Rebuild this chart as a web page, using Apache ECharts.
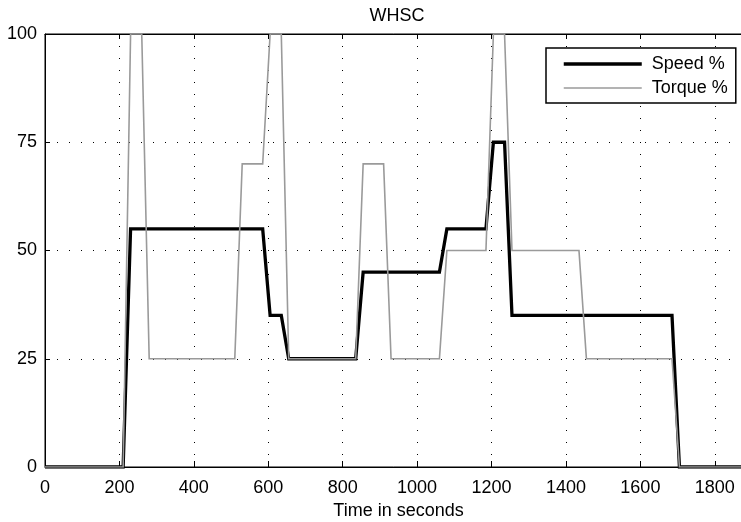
<!DOCTYPE html>
<html>
<head>
<meta charset="utf-8">
<script src="https://cdn.jsdelivr.net/npm/echarts@6/dist/echarts.min.js"></script>
<style>
html,body{margin:0;padding:0;background:#fff;}
#chart{width:741px;height:522px;}
</style>
</head>
<body>
<div id="chart"></div>
<script>
var speedTimes  = [0, 210, 230, 585, 605, 635, 655, 835, 855, 1060, 1080, 1185, 1205, 1235, 1255, 1685, 1705, 1900];
var speedValues = [0, 0, 55, 55, 35, 35, 25, 25, 45, 45, 55, 55, 75, 75, 35, 35, 0, 0];
var torqueTimes  = [0, 210, 230, 260, 280, 510, 530, 585, 605, 635, 655, 835, 855, 910, 930, 1060, 1080, 1185, 1205, 1235, 1255, 1435, 1455, 1685, 1705, 1900];
var torqueValues = [0, 0, 100, 100, 25, 25, 70, 70, 100, 100, 25, 25, 70, 70, 25, 25, 50, 50, 100, 100, 50, 50, 25, 25, 0, 0];
var xTicks = [0, 200, 400, 600, 800, 1000, 1200, 1400, 1600, 1800];
var yTicks = [0, 25, 50, 75, 100];

function zip(t, v) { return t.map(function (x, i) { return [x, v[i]]; }); }

var FONT = 'Liberation Sans, Arial, sans-serif';
var FS = 18;
var chart = echarts.init(document.getElementById('chart'), null, {renderer: 'canvas'});
var dotted = {color: '#000', width: 1, type: [1, 11]};

chart.setOption({
  animation: false,
  backgroundColor: '#fff',
  textStyle: {fontFamily: FONT},
  title: {
    text: 'WHSC', left: 397, top: 7, padding: 0, textAlign: 'center',
    textStyle: {fontFamily: FONT, fontSize: FS, fontWeight: 'normal', color: '#000'}
  },
  grid: {left: 45, top: 34, width: 707, height: 433, outerBoundsMode: 'none', containLabel: false,
    show: true, borderColor: '#000', borderWidth: 1, backgroundColor: 'transparent'},
  legend: {
    orient: 'vertical', left: 546, top: 48,
    padding: [7, 8, 6, 16], itemGap: 6, itemWidth: 78, itemHeight: 18,
    borderColor: '#000', borderWidth: 1.5, backgroundColor: '#fff',
    itemStyle: {opacity: 0},
    textStyle: {fontFamily: FONT, fontSize: FS, color: '#000', padding: [0, 0, 0, 5], lineHeight: 18},
    data: [
      {name: 'Speed %', lineStyle: {width: 3.5, color: '#000'}},
      {name: 'Torque %', lineStyle: {width: 1.6, color: '#9a9a9a'}}
    ]
  },
  xAxis: [{
    type: 'value', min: 0, max: 1900, interval: 200, position: 'bottom',
    name: 'Time in seconds', nameLocation: 'middle', nameGap: 35,
    nameTextStyle: {fontFamily: FONT, fontSize: FS, color: '#000'},
    axisLine: {show: true, lineStyle: {color: '#000', width: 1}},
    axisTick: {show: true, inside: true, length: 6, lineStyle: {color: '#000'}},
    axisLabel: {fontFamily: FONT, fontSize: FS, color: '#000', margin: 12,
      formatter: function (v) { return xTicks.indexOf(v) >= 0 ? String(v) : ''; }},
    splitLine: {show: true, lineStyle: dotted}
  }, {
    type: 'value', min: 0, max: 1900, interval: 200, position: 'top',
    axisLine: {show: true, lineStyle: {color: '#000', width: 1}},
    axisTick: {show: true, inside: true, length: 5, lineStyle: {color: '#000'}},
    axisLabel: {show: false}, splitLine: {show: false}
  }],
  yAxis: {
    type: 'value', min: 0, max: 100, interval: 25,
    axisLine: {show: true, lineStyle: {color: '#000', width: 1}},
    axisTick: {show: true, inside: true, length: 5, lineStyle: {color: '#000'}},
    axisLabel: {fontFamily: FONT, fontSize: FS, color: '#000', margin: 8,
      formatter: function (v) { return yTicks.indexOf(v) >= 0 ? String(v) : ''; }},
    splitLine: {show: true, lineStyle: dotted}
  },
  series: [{
    name: 'Speed %', type: 'line', xAxisIndex: 0, data: zip(speedTimes, speedValues),
    showSymbol: false, symbol: 'none', z: 2,
    lineStyle: {color: '#000', width: 3.3, join: 'miter'}, itemStyle: {color: '#000'}
  }, {
    name: 'Torque %', type: 'line', xAxisIndex: 0, data: zip(torqueTimes, torqueValues),
    showSymbol: false, symbol: 'none', z: 3,
    lineStyle: {color: '#9a9a9a', width: 1.6, join: 'miter'}, itemStyle: {color: '#9a9a9a'}
  }]
});
</script>
</body>
</html>
